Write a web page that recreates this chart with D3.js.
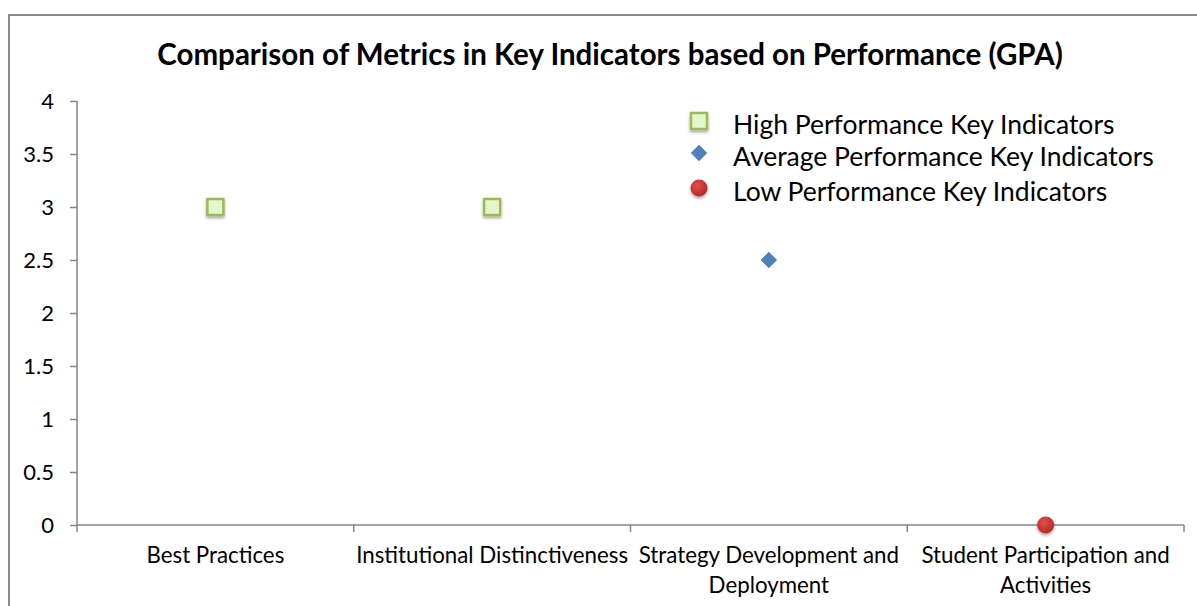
<!DOCTYPE html>
<html>
<head>
<meta charset="utf-8">
<title>Comparison of Metrics in Key Indicators</title>
<script src="https://d3js.org/d3.v7.min.js"></script>
<style>
  body { margin: 0; background: #fff; }
  svg { display: block; font-family: Lato, "Open Sans", sans-serif; }
  .axis path, .axis line { stroke: #868686; stroke-width: 1.5; }
  .axis text { fill: #000; font-family: Lato, "Open Sans", sans-serif; }
</style>
</head>
<body>
<svg id="chart" width="1197" height="606"></svg>
<script>
  // categories and series
  const categories = ["Best Practices", "Institutional Distinctiveness", "Strategy Development and Deployment", "Student Participation and Activities"];
  const highSeries = [{ cat: "Best Practices", value: 3 }, { cat: "Institutional Distinctiveness", value: 3 }];
  const averageSeries = [{ cat: "Strategy Development and Deployment", value: 2.5 }];
  const lowSeries = [{ cat: "Student Participation and Activities", value: 0 }];
  const yTicks = [0, 0.5, 1, 1.5, 2, 2.5, 3, 3.5, 4];
  const seriesNames = ["High Performance Key Indicators", "Average Performance Key Indicators", "Low Performance Key Indicators"];

  // wrapped labels for the x axis
  const catLines = {
    "Best Practices": ["Best Practices"],
    "Institutional Distinctiveness": ["Institutional Distinctiveness"],
    "Strategy Development and Deployment": ["Strategy Development and", "Deployment"],
    "Student Participation and Activities": ["Student Participation and", "Activities"]
  };

  const svg = d3.select("#chart");
  const margin = { top: 101, right: 13, bottom: 81, left: 77 };
  const W = 1197, H = 606;

  // outer frame (top and left edges visible)
  svg.append("path")
    .attr("d", `M9,${H} L9,15 L${W},15`)
    .attr("fill", "none")
    .attr("stroke", "#8a8a8a")
    .attr("stroke-width", 2);

  const defs = svg.append("defs");
  const shadow = defs.append("filter").attr("id", "shadow")
    .attr("x", "-50%").attr("y", "-50%").attr("width", "200%").attr("height", "200%");
  shadow.append("feDropShadow").attr("dx", 0).attr("dy", 2).attr("stdDeviation", 1.5)
    .attr("flood-color", "#000").attr("flood-opacity", 0.35);

  const redGrad = defs.append("radialGradient").attr("id", "redGrad").attr("cx", "40%").attr("cy", "35%").attr("r", "65%");
  redGrad.append("stop").attr("offset", "0%").attr("stop-color", "#e0504a");
  redGrad.append("stop").attr("offset", "100%").attr("stop-color", "#b52a25");

  const x = d3.scaleBand().domain(categories).range([margin.left, W - margin.right]);
  const y = d3.scaleLinear().domain([0, 4]).range([H - margin.bottom, margin.top]);

  // title
  svg.append("text")
    .attr("x", 610).attr("y", 65)
    .attr("text-anchor", "middle")
    .attr("font-size", 29.5).attr("font-weight", "bold")
    .text("Comparison of Metrics in Key Indicators based on Performance (GPA)");

  // y axis
  const yAxis = svg.append("g").attr("class", "axis")
    .attr("transform", `translate(${margin.left},0)`)
    .call(d3.axisLeft(y).tickValues(yTicks).tickSize(7).tickPadding(16).tickFormat(d3.format("")));
  yAxis.select(".domain").attr("d", `M0,${y(4)}V${y(0)}`);
  yAxis.selectAll("text").attr("font-size", 22);

  // x axis with ticks at band boundaries
  const xAxis = svg.append("g").attr("class", "axis")
    .attr("transform", `translate(0,${y(0)})`);
  xAxis.append("line")
    .attr("x1", margin.left).attr("x2", W - margin.right)
    .attr("y1", 0).attr("y2", 0);
  const bounds = categories.map(c => x(c)).concat([x(categories[categories.length - 1]) + x.bandwidth()]);
  xAxis.selectAll(".xtick").data(bounds).join("line")
    .attr("class", "xtick")
    .attr("x1", d => d).attr("x2", d => d)
    .attr("y1", 0).attr("y2", 7);
  const labels = xAxis.selectAll(".xlabel").data(categories).join("text")
    .attr("class", "xlabel")
    .attr("text-anchor", "middle")
    .attr("font-size", 22.3)
    .attr("fill", "#000");
  labels.selectAll("tspan").data(d => catLines[d].map(t => ({ cat: d, t }))).join("tspan")
    .attr("x", d => x(d.cat) + x.bandwidth() / 2)
    .attr("y", (d, i) => 38 + i * 30)
    .text(d => d.t);

  const cx = c => x(c) + x.bandwidth() / 2;

  // markers
  function square(g, px, py) {
    g.append("rect")
      .attr("x", px - 8).attr("y", py - 8).attr("width", 16).attr("height", 16)
      .attr("fill", "#e4f7cc").attr("stroke", "#9bbb59").attr("stroke-width", 2.5)
      .attr("filter", "url(#shadow)");
  }
  function diamond(g, px, py) {
    g.append("path")
      .attr("d", d3.symbol().type(d3.symbolDiamond2).size(150))
      .attr("transform", `translate(${px},${py})`)
      .attr("fill", "#4f81bd").attr("stroke", "#3c6aa3").attr("stroke-width", 0.8);
  }
  function circle(g, px, py) {
    g.append("circle")
      .attr("cx", px).attr("cy", py).attr("r", 8.5)
      .attr("fill", "url(#redGrad)")
      .attr("filter", "url(#shadow)");
  }

  const marks = svg.append("g");
  highSeries.forEach(d => square(marks, cx(d.cat), y(d.value)));
  averageSeries.forEach(d => diamond(marks, cx(d.cat), y(d.value)));
  lowSeries.forEach(d => circle(marks, cx(d.cat), y(d.value)));

  // legend
  const legend = svg.append("g");
  const markerFns = [square, diamond, circle];
  const legendY = [121, 153, 188];
  seriesNames.forEach((name, i) => {
    markerFns[i](legend, 699, legendY[i]);
    legend.append("text")
      .attr("x", 733).attr("y", legendY[i] + 13)
      .attr("font-size", 26.5)
      .text(name);
  });
</script>
</body>
</html>
